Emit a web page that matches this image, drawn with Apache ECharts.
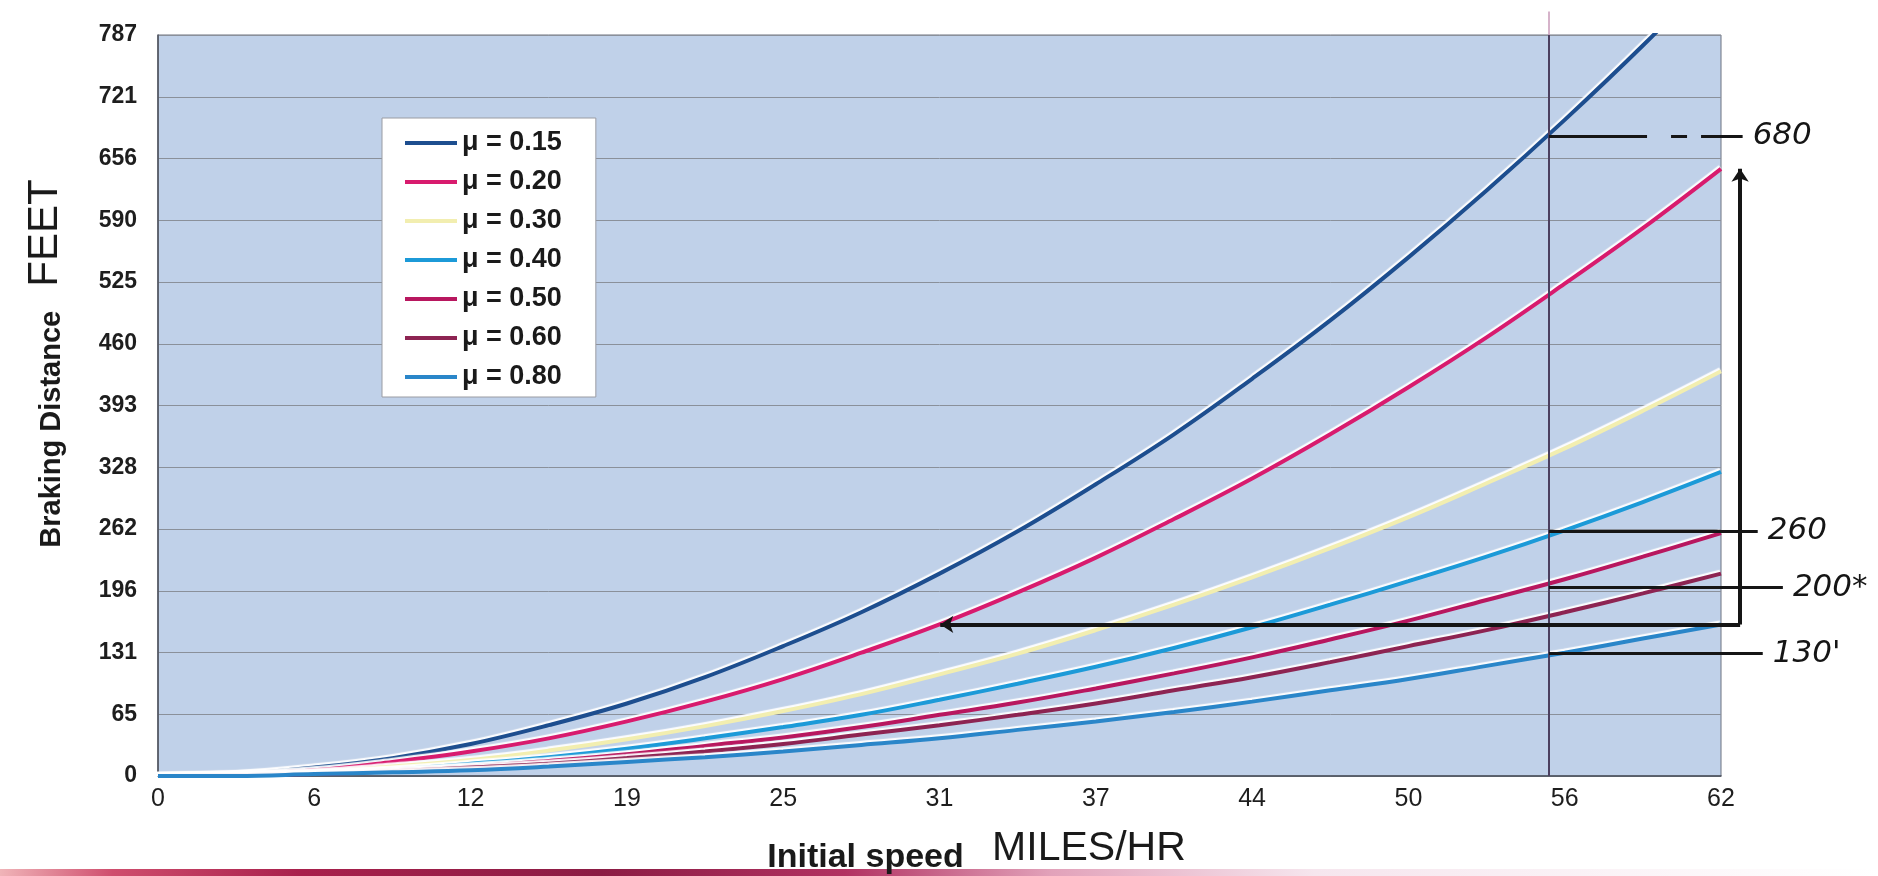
<!DOCTYPE html>
<html>
<head>
<meta charset="utf-8">
<script src="https://cdn.jsdelivr.net/npm/echarts@6/dist/echarts.min.js"></script>
<style>
  html, body { margin: 0; padding: 0; background: #ffffff; }
  #chart { width: 1878px; height: 876px; }
</style>
</head>
<body>
<div id="chart"></div>
<script>
// Initial speed in mph, sampled every 5 km/h
const speedsMph = [0, 3.107, 6.214, 9.321, 12.428, 15.535, 18.642, 21.749, 24.856, 27.963, 31.07,
                   34.177, 37.284, 40.391, 43.498, 46.605, 49.712, 52.819, 55.926, 59.033, 62.14];

// Axis tick labels (metric steps shown in imperial units)
const xTickLabels = ['0', '6', '12', '19', '25', '31', '37', '44', '50', '56', '62'];
const yTickLabels = ['0', '65', '131', '196', '262', '328', '393', '460', '525', '590', '656', '721', '787'];

// Friction coefficients
const frictionLabels = ['μ = 0.15', 'μ = 0.20', 'μ = 0.30', 'μ = 0.40', 'μ = 0.50', 'μ = 0.60', 'μ = 0.80'];

// Braking distance in feet for each coefficient
const distMu015 = [0, 2, 9, 19, 34, 54, 77, 105, 138, 174, 215, 260, 310, 363, 422, 484, 551, 622, 697, 776, 860];
const distMu020 = [0, 2, 6, 15, 26, 40, 58, 79, 103, 131, 161, 195, 232, 273, 316, 363, 413, 466, 523, 582, 645];
const distMu030 = [0, 1, 4, 10, 17, 27, 39, 53, 69, 87, 108, 130, 155, 182, 211, 242, 275, 311, 348, 388, 430];
const distMu040 = [0, 1, 3, 7, 13, 20, 29, 40, 52, 65, 81, 98, 116, 136, 158, 182, 207, 233, 261, 291, 323];
const distMu050 = [0, 1, 3, 6, 10, 16, 23, 32, 41, 52, 65, 78, 93, 109, 126, 145, 165, 187, 209, 233, 258];
const distMu060 = [0, 1, 2, 5, 9, 13, 19, 26, 34, 44, 54, 65, 77, 91, 105, 121, 138, 155, 174, 194, 215];
const distMu080 = [0, 0, 2, 4, 6, 10, 15, 20, 26, 33, 40, 49, 58, 68, 79, 91, 103, 117, 131, 146, 161];

const checkSpeed = 55.3;
const noteValues = [680, 260, 200, 130];
const noteTexts = ['680', '260', '200*', "130'"];
const noteEndSpeeds = [63.0, 63.6, 64.6, 63.8];
const noteBreakSpeed = 59.2; // the 680 stroke turns into dashes here
// Comparison arrow: same distance on a dry road at 62 mph vs. icy road at 31 mph
const arrowDistance = 161;
const arrowFromSpeed = 62.9;
const arrowToSpeed = 31.1;
const arrowTopDistance = 645;

const xStep = 6.214, xMax = 62.14;
const yStep = 65.6, yMax = 787.2;

const curveColors = ['#1d4e8f', '#d81b6e', '#f2eeb0', '#1c9ad8', '#b8175f', '#8d2452', '#2a86c9'];
const distSets = [distMu015, distMu020, distMu030, distMu040, distMu050, distMu060, distMu080];

const FONT = 'Liberation Sans, Arial, sans-serif';
const HAND = 'DejaVu Sans, sans-serif';
const INK = '#151515';

const curveSeries = frictionLabels.map((name, i) => ({
  name: name,
  type: 'line',
  smooth: 0.4,
  symbol: 'none',
  z: 3,
  color: curveColors[i],
  lineStyle: {
    width: 4,
    color: curveColors[i],
    shadowColor: 'rgba(255,255,255,0.95)',
    shadowBlur: 1,
    shadowOffsetX: -1,
    shadowOffsetY: -2
  },
  data: speedsMph.map((s, k) => [s, distSets[i][k]])
}));

// Read-off strokes from the check speed to the written values
const noteLines = [];
noteValues.forEach((v, i) => {
  if (i === 0) {
    noteLines.push({ name: '', coords: [[checkSpeed, v], [noteBreakSpeed, v]], label: { show: false } });
    noteLines.push({
      name: noteTexts[i],
      coords: [[noteBreakSpeed, v], [noteEndSpeeds[i], v]],
      lineStyle: { type: [0, 24, 16, 14, 40] },
      label: { show: true }
    });
  } else {
    noteLines.push({ name: noteTexts[i], coords: [[checkSpeed, v], [noteEndSpeeds[i], v]], label: { show: true } });
  }
});

const annotationSeries = [
  {
    // vertical marker at the check speed
    type: 'lines',
    coordinateSystem: 'cartesian2d',
    clip: false,
    silent: true,
    z: 4,
    lineStyle: { color: '#4b3f5f', width: 2, opacity: 1 },
    data: [{ coords: [[checkSpeed, 0], [checkSpeed, yMax]] }]
  },
  {
    type: 'lines',
    coordinateSystem: 'cartesian2d',
    clip: false,
    silent: true,
    z: 4,
    lineStyle: { color: '#c99ab9', width: 1.5, opacity: 1 },
    data: [{ coords: [[checkSpeed, yMax], [checkSpeed, yMax + 25]] }]
  },
  {
    // read-off lines with their hand-written values
    type: 'lines',
    coordinateSystem: 'cartesian2d',
    clip: false,
    silent: true,
    z: 5,
    lineStyle: { color: INK, width: 3, opacity: 1 },
    label: {
      show: true,
      position: 'end',
      distance: 10,
      formatter: '{b}',
      fontFamily: HAND,
      fontStyle: 'italic',
      fontSize: 31,
      color: INK
    },
    data: noteLines
  },
  {
    // comparison arrows
    type: 'lines',
    coordinateSystem: 'cartesian2d',
    clip: false,
    silent: true,
    z: 5,
    symbol: ['none', 'arrow'],
    symbolSize: 13,
    lineStyle: { color: INK, width: 4, opacity: 1 },
    data: [
      { coords: [[arrowFromSpeed, arrowDistance], [arrowToSpeed, arrowDistance]] },
      { coords: [[arrowFromSpeed, arrowDistance], [arrowFromSpeed, arrowTopDistance]] }
    ]
  }
];

const chart = echarts.init(document.getElementById('chart'), null, { renderer: 'canvas' });

chart.setOption({
  animation: false,
  backgroundColor: '#ffffff',
  grid: {
    left: 158, right: 157, top: 35, bottom: 100,
    outerBoundsMode: 'none',
    show: true,
    backgroundColor: '#c0d1e9',
    borderColor: '#6d7380',
    borderWidth: 1
  },
  legend: {
    data: frictionLabels,
    orient: 'vertical',
    left: 382,
    top: 118,
    icon: 'rect',
    itemWidth: 52,
    itemHeight: 4,
    itemGap: 11,
    padding: [11, 34, 6, 23],
    backgroundColor: '#ffffff',
    borderColor: '#9a9ca3',
    borderWidth: 1,
    textStyle: { fontFamily: FONT, fontWeight: 'bold', fontSize: 27, color: '#1a1a1a', lineHeight: 28 }
  },
  xAxis: {
    type: 'value',
    min: 0,
    max: xMax,
    interval: xStep,
    name: '{a|Initial speed   }{b|MILES/HR}',
    nameLocation: 'middle',
    nameGap: 52,
    nameTextStyle: {
      padding: [0, 0, 0, 74],
      rich: {
        a: { fontFamily: FONT, fontWeight: 'bold', fontSize: 34, color: '#1a1a1a', verticalAlign: 'bottom', padding: [0, 0, -6, 0] },
        b: { fontFamily: FONT, fontSize: 41, color: '#1a1a1a', verticalAlign: 'bottom' }
      }
    },
    axisLine: { show: true, lineStyle: { color: '#4a4f5a', width: 1.5 } },
    axisTick: { show: false },
    splitLine: { show: false },
    axisLabel: {
      margin: 11,
      fontFamily: FONT,
      fontSize: 25,
      color: '#1e1e1e',
      formatter: v => xTickLabels[Math.round(v / xStep)]
    }
  },
  yAxis: {
    type: 'value',
    min: 0,
    max: yMax,
    interval: yStep,
    name: '{a|Braking Distance   }{b|FEET}',
    nameLocation: 'middle',
    nameRotate: 90,
    nameGap: 92,
    nameTextStyle: {
      padding: [0, 0, 0, 84],
      rich: {
        a: { fontFamily: FONT, fontWeight: 'bold', fontSize: 29, color: '#1a1a1a', verticalAlign: 'bottom' },
        b: { fontFamily: FONT, fontSize: 42, color: '#1a1a1a', verticalAlign: 'bottom' }
      }
    },
    axisLine: { show: true, lineStyle: { color: '#4a4f5a', width: 1.5 } },
    axisTick: { show: false },
    splitLine: { show: true, lineStyle: { color: '#8a909a', width: 1 } },
    axisLabel: {
      margin: 21,
      fontFamily: FONT,
      fontWeight: 'bold',
      fontSize: 23,
      color: '#1e1e1e',
      formatter: v => yTickLabels[Math.round(v / yStep)]
    }
  },
  graphic: [
    {
      // printed colour strip along the bottom edge of the page
      type: 'rect',
      left: 0,
      bottom: 0,
      silent: true,
      z: -1,
      shape: { width: 1878, height: 7 },
      style: {
        fill: new echarts.graphic.LinearGradient(0, 0, 1, 0, [
          { offset: 0, color: '#f0b4b8' },
          { offset: 0.06, color: '#cf4e6e' },
          { offset: 0.16, color: '#a8204c' },
          { offset: 0.32, color: '#8b1c44' },
          { offset: 0.45, color: '#b23262' },
          { offset: 0.56, color: '#e2a2ba' },
          { offset: 0.7, color: '#f6e6ee' },
          { offset: 1, color: '#ffffff' }
        ])
      }
    }
  ],
  series: curveSeries.concat(annotationSeries)
});
</script>
</body>
</html>
